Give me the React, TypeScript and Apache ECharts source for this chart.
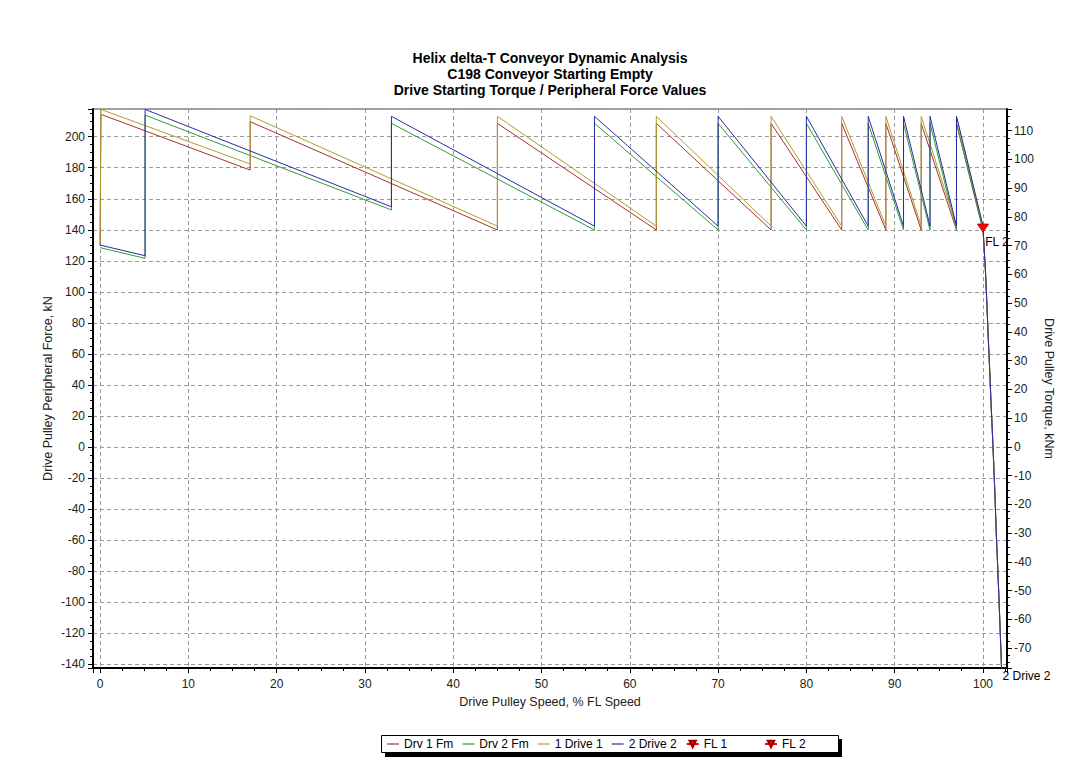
import React, { useEffect, useRef } from "react";
import * as echarts from "echarts";

const FONT = 'Arial, "Liberation Sans", Helvetica, sans-serif';

const titleLines = [
  "Helix delta-T Conveyor Dynamic Analysis",
  "C198 Conveyor Starting Empty",
  "Drive Starting Torque / Peripheral Force Values",
];

const xAxisName = "Drive Pulley Speed, % FL Speed";
const leftAxisName = "Drive Pulley Peripheral Force, kN";
const rightAxisName = "Drive Pulley Torque, kNm";

const seriesNames = ["Drv 1 Fm", "Drv 2 Fm", "1 Drive 1", "2 Drive 2", "FL 1", "FL 2"];

// Run-out past full speed, peripheral force (kN) vs speed (%)
const fmRunOut: [number, number][] = [
  [100.3, 111], [100.45, 91], [100.6, 70], [100.75, 51], [100.9, 30],
  [101.05, 11], [101.2, -9], [101.35, -30], [101.5, -55], [101.65, -75],
  [101.8, -96], [101.92, -114], [102.03, -131], [102.1, -142.4],
];

// Run-out past full speed, torque (kNm) vs speed (%)
const torqueRunOut: [number, number][] = [
  [100.3, 60.0], [100.45, 49.1], [100.6, 37.8], [100.75, 27.5], [100.9, 16.2],
  [101.05, 5.9], [101.2, -4.9], [101.35, -16.2], [101.5, -29.7], [101.65, -40.5],
  [101.8, -51.8], [101.92, -61.6], [102.03, -70.7], [102.1, -76.9],
];

// Drive 1 peripheral force, kN
const drv1Fm: [number, number][] = [
  [0, 129.8], [0.1, 214.4], [17, 178.5], [17, 209.7], [45, 139.9], [45, 208.6],
  [63, 139.9], [63, 208.6], [76, 139.9], [76, 208.6], [84, 139.9], [84, 208.6],
  [89, 139.9], [89, 208.6], [93, 139.9], [93, 208.6], [97, 139.9], [97, 208.6],
  [100, 139.9], ...fmRunOut,
];

// Drive 2 peripheral force, kN
const drv2Fm: [number, number][] = [
  [0, 128.5], [5.1, 121.6], [5.1, 213.9], [33, 152.8], [33, 208.6], [56, 139.9],
  [56, 208.6], [70, 139.9], [70, 208.6], [80, 139.9], [80, 208.6], [87, 139.9],
  [87, 208.6], [91, 139.9], [91, 208.6], [94, 139.9], [94, 208.6], [97, 139.9],
  [97, 208.6], [100, 139.9], ...fmRunOut,
];

// Drive 1 torque, kNm
const drive1Torque: [number, number][] = [
  [0, 70.8], [0.1, 117.4], [17, 98.4], [17, 115.2], [45, 76.8], [45, 115.0],
  [63, 76.8], [63, 115.0], [76, 76.8], [76, 115.0], [84, 76.8], [84, 115.0],
  [89, 76.8], [89, 115.0], [93, 76.8], [93, 115.0], [97, 76.8], [97, 115.0],
  [100, 76.8], ...torqueRunOut,
];

// Drive 2 torque, kNm
const drive2Torque: [number, number][] = [
  [0, 70.2], [5.1, 66.5], [5.1, 117.4], [33, 83.5], [33, 115.0], [56, 76.8],
  [56, 115.0], [70, 76.8], [70, 115.0], [80, 76.8], [80, 115.0], [87, 76.8],
  [87, 115.0], [91, 76.8], [91, 115.0], [94, 76.8], [94, 115.0], [97, 76.8],
  [97, 115.0], [100, 76.8], ...torqueRunOut,
];

// Full-load operating points, kNm
const fl1Point: [number, number][] = [[100, 76.1]];
const fl2Point: [number, number][] = [[100, 76.1]];

const COLORS = {
  drv1Fm: "#a83232",
  drv2Fm: "#2e9e2e",
  drive1: "#aaa02c",
  drive2: "#2a2aa6",
  fl: "#ff0000",
};

const axisText = { fontSize: 12, color: "#222", fontFamily: FONT };
const nameText = { fontSize: 12.5, color: "#222", fontFamily: FONT };
const gridDash = { color: "#9a9a9a", type: [4, 3] as number[], width: 1 };

// thin horizontal bar used as the legend glyph of plain traces
const LINE_ICON = "path://M0,0H12V1.2H0Z";

function trace(name: string, data: [number, number][], color: string, yAxisIndex: number, extra: any = {}) {
  return {
    type: "line",
    name,
    data,
    yAxisIndex,
    symbol: "none",
    showSymbol: false,
    lineStyle: { color, width: 1 },
    itemStyle: { color },
    clip: true,
    ...extra,
  };
}

function flMarker(name: string, data: [number, number][], label: any) {
  return {
    type: "line",
    name,
    data,
    yAxisIndex: 1,
    symbol: "triangle",
    symbolRotate: 180,
    symbolSize: [11, 8],
    showSymbol: true,
    lineStyle: { color: COLORS.fl, width: 1 },
    itemStyle: { color: COLORS.fl, borderColor: "#900", borderWidth: 0.5 },
    label,
    z: 6,
  };
}

const legendText = { fontSize: 12, color: "#000", fontFamily: FONT };

const option: any = {
  animation: false,
  backgroundColor: "#fff",
  textStyle: { fontFamily: FONT },
  title: {
    text: titleLines.join("\n"),
    left: 550,
    textAlign: "center",
    top: 50,
    padding: 0,
    textStyle: { fontSize: 14, fontWeight: "bold", lineHeight: 16, color: "#000", fontFamily: FONT },
  },
  grid: {
    left: 93,
    top: 109,
    width: 914,
    height: 559,
    show: true,
    borderColor: "#444",
    borderWidth: 1,
    backgroundColor: "#fff",
  },
  xAxis: {
    type: "value",
    min: -0.8,
    max: 102.72,
    splitNumber: 10,
    name: xAxisName,
    nameLocation: "middle",
    nameGap: 27,
    nameMoveOverlap: false,
    nameTextStyle: nameText,
    axisLine: { show: true, onZero: false, lineStyle: { color: "#000", width: 2 } },
    axisTick: { show: true, length: 5, lineStyle: { color: "#000" } },
    minorTick: { show: true, splitNumber: 4, length: 3, lineStyle: { color: "#000" } },
    axisLabel: { ...axisText, margin: 10, showMinLabel: false, showMaxLabel: false },
    splitLine: { show: true, lineStyle: gridDash },
  },
  yAxis: [
    {
      type: "value",
      position: "left",
      min: -142.4,
      max: 217.85,
      splitNumber: 18,
      name: leftAxisName,
      nameLocation: "middle",
      nameGap: 39,
      nameMoveOverlap: false,
      nameTextStyle: nameText,
      axisLine: { show: true, onZero: false, lineStyle: { color: "#000", width: 2 } },
      axisTick: { show: true, length: 5, lineStyle: { color: "#000" } },
      minorTick: { show: true, splitNumber: 4, length: 3, lineStyle: { color: "#000" } },
      axisLabel: { ...axisText, margin: 8, showMinLabel: false, showMaxLabel: false },
      splitLine: { show: true, lineStyle: gridDash },
    },
    {
      type: "value",
      position: "right",
      min: -76.96,
      max: 117.55,
      splitNumber: 19,
      name: rightAxisName,
      nameLocation: "middle",
      nameRotate: -90,
      nameGap: 35,
      nameMoveOverlap: false,
      nameTextStyle: nameText,
      axisLine: { show: true, onZero: false, lineStyle: { color: "#000", width: 2 } },
      axisTick: { show: true, length: 5, lineStyle: { color: "#000" } },
      minorTick: { show: true, splitNumber: 4, length: 3, lineStyle: { color: "#000" } },
      axisLabel: { ...axisText, margin: 7, showMinLabel: false, showMaxLabel: false },
      splitLine: { show: false },
    },
  ],
  legend: [
    {
      data: [
        { name: seriesNames[0], icon: LINE_ICON },
        { name: seriesNames[1], icon: LINE_ICON },
        { name: seriesNames[2], icon: LINE_ICON },
        { name: seriesNames[3], icon: LINE_ICON },
        { name: seriesNames[4] },
      ],
      left: 387,
      top: 738,
      padding: 0,
      itemWidth: 12,
      itemHeight: 8,
      itemGap: 9,
      selectedMode: false,
      textStyle: legendText,
    },
    {
      data: [{ name: seriesNames[5] }],
      left: 764,
      top: 738,
      padding: 0,
      itemWidth: 12,
      itemHeight: 8,
      selectedMode: false,
      textStyle: legendText,
    },
  ],
  graphic: [
    {
      type: "rect",
      z: 0,
      shape: { x: 385, y: 739, width: 457, height: 18 },
      style: { fill: "#000" },
    },
    {
      type: "rect",
      z: 1,
      shape: { x: 381.5, y: 735.5, width: 457, height: 17 },
      style: { fill: "#fff", stroke: "#000", lineWidth: 1 },
    },
  ],
  series: [
    trace(seriesNames[0], drv1Fm, COLORS.drv1Fm, 0),
    trace(seriesNames[1], drv2Fm, COLORS.drv2Fm, 0),
    trace(seriesNames[2], drive1Torque, COLORS.drive1, 1),
    trace(seriesNames[3], drive2Torque, COLORS.drive2, 1, {
      endLabel: {
        show: true,
        formatter: "2 Drive 2",
        fontSize: 12,
        color: "#000",
        fontFamily: FONT,
        distance: 1,
        offset: [0, 8],
      },
    }),
    flMarker(seriesNames[4], fl1Point, { show: false }),
    flMarker(seriesNames[5], fl2Point, {
      show: true,
      formatter: "FL 2",
      position: [8, 12],
      align: "left",
      verticalAlign: "top",
      fontSize: 12,
      color: "#000",
      fontFamily: FONT,
    }),
  ],
};

export default function App() {
  const ref = useRef<HTMLDivElement>(null);
  useEffect(() => {
    const chart = echarts.init(ref.current!, null, { renderer: "svg" });
    chart.setOption(option);
    return () => chart.dispose();
  }, []);
  return (
    <div
      ref={ref}
      style={{ position: "fixed", left: 0, top: 0, width: 1079, height: 783, background: "#fff" }}
    />
  );
}
